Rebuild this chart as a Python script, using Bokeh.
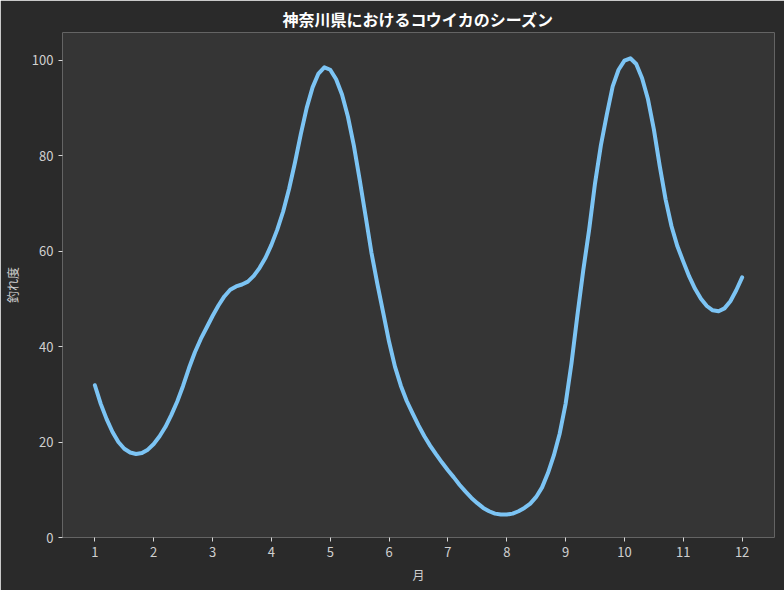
from bokeh.plotting import figure
from bokeh.models import Range1d, FixedTicker, ColumnDataSource
from bokeh.embed import file_html
from bokeh.resources import INLINE

# Values, every 0.1 month (month, catch score)
months = [round(1.0 + 0.1 * i, 2) for i in range(111)]
score = [
    31.9, 28.0, 24.8, 22.1, 20.0, 18.6, 17.8, 17.5, 17.7, 18.4,   # 1.0 - 1.9
    19.6, 21.2, 23.2, 25.7, 28.5, 31.8, 35.5, 38.8, 41.6, 44.0,   # 2.0 - 2.9
    46.4, 48.6, 50.5, 51.9, 52.6, 53.0, 53.6, 54.8, 56.5, 58.6,   # 3.0 - 3.9
    61.3, 64.5, 68.3, 73.0, 78.5, 84.5, 90.0, 94.3, 97.2, 98.5,   # 4.0 - 4.9
    98.0, 96.0, 92.8, 88.2, 82.2, 75.0, 67.4, 59.7, 53.2, 47.1,   # 5.0 - 5.9
    41.0, 35.8, 31.8, 28.6, 26.0, 23.5, 21.2, 19.2, 17.4, 15.7,   # 6.0 - 6.9
    14.1, 12.6, 11.0, 9.6, 8.3, 7.2, 6.2, 5.5, 5.0, 4.8,          # 7.0 - 7.9
    4.8, 5.0, 5.5, 6.2, 7.1, 8.5, 10.5, 13.5, 17.2, 21.8,         # 8.0 - 8.9
    28.0, 36.5, 46.5, 56.0, 64.5, 74.2, 82.2, 88.6, 94.5, 98.0,   # 9.0 - 9.9
    99.9, 100.4, 99.2, 96.2, 91.8, 85.5, 77.8, 70.8, 65.2, 61.0,  # 10.0 - 10.9
    57.8, 54.7, 52.1, 50.0, 48.5, 47.6, 47.4, 48.0, 49.5, 51.8,   # 11.0 - 11.9
    54.5,                                                          # 12.0
]
x_ticks = list(range(1, 13))
y_ticks = [0, 20, 40, 60, 80, 100]

title_text = "神奈川県におけるコウイカのシーズン"
x_label = "月"
y_label = "釣れ度"

FONT = "Noto Sans CJK JP"

p = figure(width=784, height=590, output_backend="svg", toolbar_location=None,
           x_range=Range1d(0.45, 12.55), y_range=Range1d(0, 105.8),
           title=title_text)

p.background_fill_color = "#353535"
p.border_fill_color = "#2a2a2a"
p.outline_line_color = None
p.min_border_left = 61
p.min_border_right = 10
p.min_border_top = 32
p.min_border_bottom = 53

p.title.text_font = FONT
p.title.text_font_size = "16px"
p.title.text_font_style = "bold"
p.title.text_color = "#ffffff"
p.title.align = "center"
p.title.standoff = 4

src = ColumnDataSource(dict(x=months, y=score))
p.line("x", "y", source=src, line_color="#7cc4f4", line_width=4,
       line_join="round", line_cap="round")

p.xgrid.grid_line_color = None
p.ygrid.grid_line_color = None

for ax in (p.xaxis[0], p.yaxis[0]):
    ax.axis_line_color = None
    ax.major_tick_line_color = "#d8d8d8"
    ax.major_tick_in = 0
    ax.major_tick_out = 4
    ax.minor_tick_line_color = None
    ax.major_label_text_font = FONT
    ax.major_label_text_font_size = "13px"
    ax.major_label_text_color = "#d0d0d0"
    ax.axis_label_text_font = FONT
    ax.axis_label_text_font_size = "12px"
    ax.axis_label_text_color = "#d0d0d0"
    ax.axis_label_text_font_style = "normal"

p.xaxis[0].ticker = FixedTicker(ticks=x_ticks)
p.yaxis[0].ticker = FixedTicker(ticks=y_ticks)
p.xaxis[0].axis_label = x_label
p.yaxis[0].axis_label = y_label
p.xaxis[0].major_label_standoff = 5
p.yaxis[0].major_label_standoff = 5
p.xaxis[0].axis_label_standoff = 6
p.yaxis[0].axis_label_standoff = 8

open("out.html", "w").write(file_html(p, INLINE))
